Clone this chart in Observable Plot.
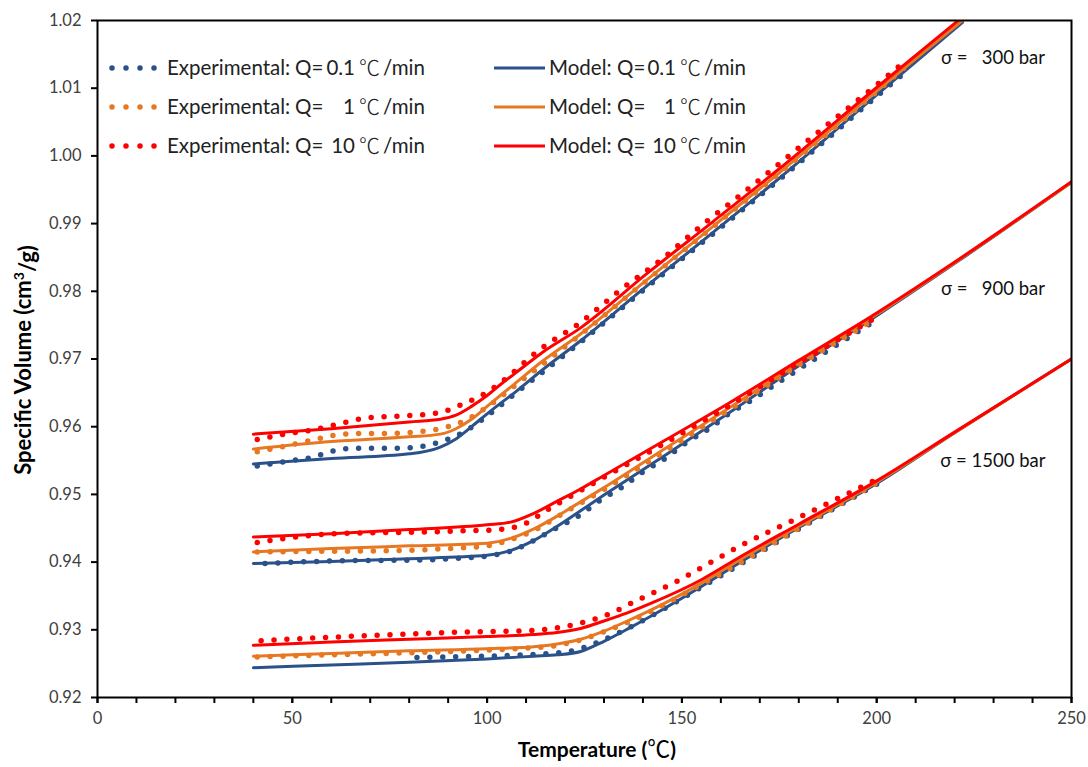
<!DOCTYPE html>
<html><head><meta charset="utf-8">
<script src="https://cdn.jsdelivr.net/npm/d3@7"></script>
<script src="https://cdn.jsdelivr.net/npm/@observablehq/plot@0.6"></script>
<style>
body{margin:0;background:#fff;}
#chart{position:relative;width:1088px;height:767px;}
svg text{white-space:pre;}
</style></head><body><div id="chart"></div>
<script>
// ---- axis ticks / labels ----
const xTickLabels = [0, 50, 100, 150, 200, 250];
const xMinorTicks = [0,10,20,30,40,50,60,70,80,90,100,110,120,130,140,150,160,170,180,190,200,210,220,230,240,250];
const yTickLabels = [0.92,0.93,0.94,0.95,0.96,0.97,0.98,0.99,1.00,1.01,1.02];
const rates = ["0.1", "1", "10"];
const rateColors = ["#2A5189", "#E87722", "#FF0000"];
const pressures = [300, 900, 1500];
const sigmaLabels = ["σ =   300 bar", "σ =   900 bar", "σ = 1500 bar"];
const sigmaT = [216.5, 216.5, 216.3];
const sigmaV = [1.0144, 0.9803, 0.9549];

// ---- model curves ----
const model300T   = [40,60,80,88,92,96,100,104,107,114,124,141,158,175,200,222];
const model300_01 = [0.9545,0.9553,0.9560,0.9570,0.9582,0.9600,0.9619,0.9637,0.9650,0.9683,0.9727,0.9808,0.9887,0.9967,1.0090,1.0197];
const model300_1  = [0.9567,0.9578,0.9585,0.9589,0.9597,0.9611,0.9630,0.9649,0.9663,0.9696,0.9737,0.9817,0.9896,0.9975,1.0096,1.0200];
const model300_10 = [0.9589,0.9597,0.9607,0.9611,0.9617,0.9630,0.9646,0.9665,0.9678,0.9709,0.9746,0.9826,0.9903,0.9981,1.0101,1.0205];

const model900T   = [40,60,80,100,106,112,118,124,130,146,163,180,200,221,250];
const model900_01 = [0.9398,0.9401,0.9405,0.9410,0.9417,0.9432,0.9453,0.9476,0.9499,0.9559,0.9624,0.9690,0.9764,0.9845,0.9961];
const model900_1  = [0.9415,0.9420,0.9424,0.9428,0.9435,0.9449,0.9468,0.9489,0.9510,0.9569,0.9631,0.9694,0.9766,0.9846,0.9961];
const model900_10 = [0.9437,0.9442,0.9448,0.9455,0.9459,0.9472,0.9490,0.9508,0.9528,0.9581,0.9638,0.9698,0.9768,0.9847,0.9962];

const model1500T   = [40,60,80,100,112,118,124,130,136,142,155,165,180,200,220,250];
const model1500_01 = [0.9244,0.9248,0.9252,0.9257,0.9261,0.9263,0.9268,0.9283,0.9301,0.9320,0.9364,0.9400,0.9451,0.9516,0.9591,0.9700];
const model1500_1  = [0.9261,0.9265,0.9269,0.9272,0.9275,0.9279,0.9286,0.9298,0.9313,0.9329,0.9369,0.9404,0.9453,0.9518,0.9591,0.9700];
const model1500_10 = [0.9277,0.9282,0.9286,0.9290,0.9293,0.9296,0.9302,0.9313,0.9325,0.9339,0.9374,0.9408,0.9456,0.9520,0.9592,0.9700];

// ---- experimental data ----
const exp300T_01 = [41,50,56,59,66,76,82,88.6,94.6,100,107,124,141,158,175,200,208];
const exp300_01  = [0.9542,0.9550,0.9556,0.9562,0.9568,0.9568,0.9570,0.9579,0.9594,0.9616,0.9648,0.9725,0.9806,0.9885,0.9965,1.0088,1.0127];
const exp300T_1  = [41,48.7,55,61.6,68,75,81,87.7,94.3,100,107,124,141,158,175,200,208];
const exp300_1   = [0.9563,0.9572,0.9580,0.9588,0.9590,0.9590,0.9592,0.9597,0.9609,0.9629,0.9660,0.9736,0.9816,0.9895,0.9974,1.0095,1.0135];
const exp300T_10 = [41,49,55,62,68,75,81.5,88,94,100,103,114,124,134,145,155,165,180,200,208];
const exp300_10  = [0.9581,0.9590,0.9595,0.9604,0.9612,0.9615,0.9617,0.9621,0.9634,0.9651,0.9663,0.9716,0.9754,0.9801,0.9848,0.9897,0.9942,1.0012,1.0105,1.0143];

const exp900T_01 = [43,63,83,93,100,106,112,118,124,129,135,140,146,151,157,162,167,176,200];
const exp900_01  = [0.9398,0.9402,0.9403,0.9406,0.9409,0.9416,0.9432,0.9451,0.9470,0.9491,0.9512,0.9533,0.9554,0.9576,0.9597,0.9619,0.9636,0.9670,0.9758];
const exp900T_1  = [41,60,77,90,100,106,112.5,118,124,130,146,163,180,200];
const exp900_1   = [0.9415,0.9416,0.9417,0.9420,0.9424,0.9433,0.9448,0.9467,0.9487,0.9507,0.9565,0.9628,0.9691,0.9760];
const exp900T_10 = [41,54,67,80,93,103,109.5,116,122,129,146,163,180,200];
const exp900_10  = [0.9429,0.9439,0.9443,0.9444,0.9446,0.9448,0.9456,0.9479,0.9499,0.9522,0.9577,0.9634,0.9694,0.9762];

const exp1500T_01 = [82,90,100,110,116,121,125,129,135,142,155,165,180,200];
const exp1500_01  = [0.9259,0.9260,0.9261,0.9263,0.9265,0.9268,0.9274,0.9283,0.9299,0.9320,0.9363,0.9397,0.9449,0.9515];
const exp1500T_1  = [41,60,80,100,110,118,124,130,136,142,155,165,180,200];
const exp1500_1   = [0.9260,0.9263,0.9266,0.9270,0.9273,0.9277,0.9285,0.9297,0.9311,0.9327,0.9367,0.9399,0.9450,0.9517];
const exp1500T_10 = [42,60,76,90,106,112,119,126,132,138,143.5,149.5,155.4,165,179,190,200];
const exp1500_10  = [0.9284,0.9289,0.9293,0.9296,0.9298,0.9299,0.9304,0.9313,0.9325,0.9342,0.9357,0.9374,0.9393,0.9424,0.9463,0.9494,0.9522];

// ---- build tables ----
const groups = [
  {modelT: model300T, models: [model300_01, model300_1, model300_10],
   expT: [exp300T_01, exp300T_1, exp300T_10], exps: [exp300_01, exp300_1, exp300_10]},
  {modelT: model900T, models: [model900_01, model900_1, model900_10],
   expT: [exp900T_01, exp900T_1, exp900T_10], exps: [exp900_01, exp900_1, exp900_10]},
  {modelT: model1500T, models: [model1500_01, model1500_1, model1500_10],
   expT: [exp1500T_01, exp1500T_1, exp1500T_10], exps: [exp1500_01, exp1500_1, exp1500_10]}
];
const zip = (T, V) => T.map((t, i) => ({T: t, v: V[i]}));

const marks = [];
groups.forEach((g) => {
  rates.forEach((r, k) => {
    marks.push(Plot.line(zip(g.expT[k], g.exps[k]), {
      x: "T", y: "v", stroke: rateColors[k], strokeWidth: 5.5,
      strokeDasharray: "0 12.9", strokeLinecap: "round", curve: "monotone-x", clip: true
    }));
    marks.push(Plot.line(zip(g.modelT, g.models[k]), {
      x: "T", y: "v", stroke: rateColors[k], strokeWidth: 3, curve: "monotone-x", clip: true
    }));
  });
});

const sigmaData = sigmaLabels.map((s, i) => ({T: sigmaT[i], v: sigmaV[i], s}));

const chart = Plot.plot({
  width: 1088, height: 767,
  marginLeft: 97, marginRight: 17, marginTop: 20, marginBottom: 70,
  style: {fontFamily: "Lato, 'Open Sans', sans-serif", background: "#fff"},
  x: {domain: [0, 250]},
  y: {domain: [0.92, 1.02]},
  marks: [
    ...marks,
    Plot.text(sigmaData, {x: "T", y: "v", text: "s", textAnchor: "start", fontSize: 18.5, fill: "#111"}),
    Plot.axisX({ticks: xMinorTicks, tickSize: 6, tickFormat: () => "", strokeWidth: 2, label: null}),
    Plot.axisX({ticks: xTickLabels, tickSize: 6, tickPadding: 9, fontSize: 16.5, fill: "#404040", stroke: "black", strokeWidth: 2, label: null}),
    Plot.axisY({ticks: yTickLabels, tickSize: 6, tickPadding: 10, fontSize: 16.5, tickFormat: d3.format(".2f"), fill: "#404040", stroke: "black", strokeWidth: 2, label: null}),
    Plot.frame({stroke: "black", strokeWidth: 2})
  ]
});
document.getElementById("chart").appendChild(chart);

// ---- legend and axis titles ----
const svg = d3.select(chart);
const leg = svg.append("g").attr("text-anchor", "start").attr("font-size", 20.5).attr("fill", "#222");
const rowY = [68, 107, 146];
const cols = [
  {name: "Experimental:", x0: 167, q: 295, numEnd: 355, deg: 359, min: 383},
  {name: "Model:",        x0: 549, q: 617, numEnd: 676, deg: 680, min: 704}
];
const piece = (x, y, txt, anchor) => leg.append("text").attr("x", x).attr("y", y).attr("dy", "0.35em")
  .attr("text-anchor", anchor || "start").text(txt);
rates.forEach((r, k) => {
  const y = rowY[k];
  leg.append("line").attr("x1", 112).attr("x2", 154.5).attr("y1", y).attr("y2", y)
    .attr("stroke", rateColors[k]).attr("stroke-width", 5.5).attr("stroke-linecap", "round")
    .attr("stroke-dasharray", "0 14");
  leg.append("line").attr("x1", 494).attr("x2", 545).attr("y1", y).attr("y2", y)
    .attr("stroke", rateColors[k]).attr("stroke-width", 3);
  cols.forEach((c) => {
    piece(c.x0, y, c.name);
    piece(c.q, y, "Q=");
    piece(c.numEnd, y, r, "end");
    piece(c.deg, y, "℃").attr("font-family", "'Noto Sans CJK SC'").attr("font-weight", 300).attr("font-size", 21);
    piece(c.min, y, "/min");
  });
});

const yt = svg.append("text").attr("transform", "translate(23,360) rotate(-90)")
  .attr("text-anchor", "middle").attr("dy", "0.35em").attr("font-size", 22).attr("font-weight", "bold").attr("fill", "#000");
yt.append("tspan").text("Specific Volume (cm");
yt.append("tspan").attr("font-size", 14).attr("dy", "-0.5em").text("3");
yt.append("tspan").attr("dy", "0.5em").text("/g)");

const xt = svg.append("text").attr("x", 597).attr("y", 750)
  .attr("text-anchor", "middle").attr("dy", "0.35em").attr("font-size", 21).attr("font-weight", "bold").attr("fill", "#000");
xt.append("tspan").text("Temperature (");
xt.append("tspan").attr("font-family", "'Noto Sans CJK SC'").attr("font-weight", 400).attr("font-size", 23).text("℃");
xt.append("tspan").text(")");
</script>
</body></html>
